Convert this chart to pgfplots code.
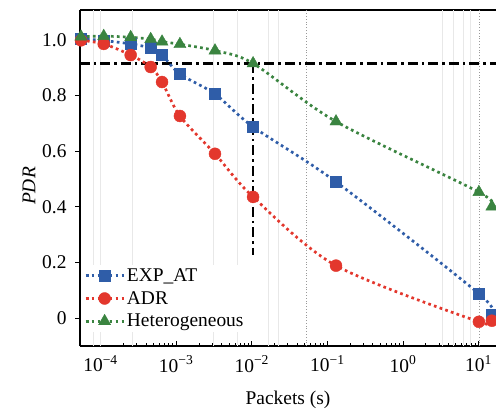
\documentclass[border=0pt]{standalone}
\usepackage{fontspec}
\setmainfont{Liberation Serif}
\usepackage{pgfplots}
\pgfplotsset{compat=1.18}

\definecolor{expblue}{HTML}{2F5DA8}
\definecolor{adrred}{HTML}{E3372D}
\definecolor{hetgreen}{HTML}{3A8440}
\newcommand{\chartfont}{\fontsize{19.5}{24}\selectfont}

% PDR versus packet interval for the three schemes
\pgfplotstableread{
x        exp     adr     het
5.5e-5   1.005   0.999   1.012
1.1e-4   0.998   0.986   1.014
2.5e-4   0.986   0.946   1.010
4.6e-4   0.971   0.903   1.003
6.5e-4   0.946   0.849   0.994
1.12e-3  0.878   0.727   0.985
3.26e-3  0.806   0.591   0.962
0.0104   0.688   0.436   0.916
0.13     0.490   0.189   0.707
10.1     0.088  -0.013   0.453
15.0     0.013  -0.009   0.401
}\pdrdata

\begin{document}
\begin{tikzpicture}
\begin{axis}[
  name=ax,
  scale only axis,
  width=416bp, height=336bp,
  xmode=log,
  xmin=5.34e-5, xmax=17,
  ymin=-0.1, ymax=1.108,
  axis x line*=box,
  axis y line*=left,
  axis line style={line width=1.1pt},
  xtick={1e-4,1e-3,1e-2,1e-1,1,10},
  xticklabels={10\textsuperscript{−4},10\textsuperscript{−3},10\textsuperscript{−2},10\textsuperscript{−1},10\textsuperscript{0},10\textsuperscript{1}},
  ytick={0,0.2,0.4,0.6,0.8,1.0},
  yticklabels={0,0.2,0.4,0.6,0.8,1.0},
  xtick pos=left, ytick pos=left,
  xtick align=inside, ytick align=outside,
  major tick length=5bp, minor tick length=3bp,
  every tick/.style={black, line width=0.9pt},
  tick label style={font=\chartfont},
  xticklabel style={yshift=-6bp},
  yticklabel style={xshift=-5bp},
  label style={font=\chartfont},
  xlabel={Packets (s)},
  xlabel style={yshift=-12bp},
  ylabel={\textit{PDR}},
  ylabel style={xshift=-8bp},
  legend style={at={(0.005,0.243)}, anchor=north west, draw=none, fill=white,
    font=\chartfont, inner xsep=2bp, inner ysep=2bp, row sep=4.5bp},
  legend cell align=left,
  legend image code/.code={\draw[mark repeat=2,mark phase=2,#1] plot coordinates {(0bp,0bp)(19bp,0bp)(38bp,0bp)};},
  series/.style={line width=2.7bp, dash pattern=on 2.7bp off 3.3bp, smooth,
    mark options={solid, line width=0.4pt}},
]
% light vertical guide lines
\pgfplotsinvokeforeach{8e-5,1e-4,2.6e-4,3.07e-3,6.4e-3,0.0164,0.0222,3.28,4.58,6.22,7.69}{
  \addplot[forget plot, gray!18, line width=0.8pt] coordinates {(#1,-0.1) (#1,1.108)};
}
\pgfplotsinvokeforeach{0.052,10.1}{
  \addplot[forget plot, gray!80, line width=0.8pt, dotted] coordinates {(#1,-0.1) (#1,1.108)};
}
% PDR threshold and its crossing
\addplot[forget plot, black, line width=2.4bp, dash pattern=on 10bp off 4bp on 2.5bp off 4bp]
  coordinates {(5.34e-5,0.916) (17,0.916)};
\addplot[forget plot, black, line width=2.4bp, dash pattern=on 10bp off 4bp on 2.5bp off 4bp]
  coordinates {(0.0104,0.916) (0.0104,0.228)};

\addplot[expblue, series, mark=square*, mark size=5.5bp] table[x=x, y=exp] {\pdrdata};
\addlegendentry{EXP\_AT}
\addplot[adrred, series, mark=*, mark size=6bp] table[x=x, y=adr] {\pdrdata};
\addlegendentry{ADR}
\addplot[hetgreen, series, mark=triangle*, mark size=7bp] table[x=x, y=het] {\pdrdata};
\addlegendentry{Heterogeneous}
\end{axis}
\pgfresetboundingbox
\path[use as bounding box] ([shift={(-80bp,-63bp)}]ax.south west) rectangle ([shift={(0bp,10bp)}]ax.north east);
\end{tikzpicture}
\end{document}
